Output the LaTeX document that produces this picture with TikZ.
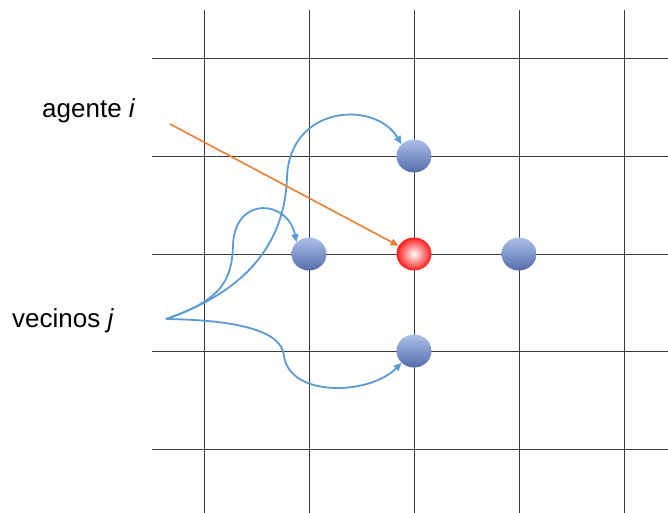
\documentclass[tikz,border=0pt]{standalone}
\usepackage{fontspec}
\setmainfont{Liberation Sans}
\usepackage{tikz}
\usepackage{xcolor}
\usetikzlibrary{arrows.meta, positioning, shapes.geometric, calc}
\definecolor{gridgray}{RGB}{60,60,60}
\definecolor{linkblue}{RGB}{91,155,213}
\definecolor{linkorange}{RGB}{237,125,49}
\definecolor{balltop}{RGB}{172,192,232}
\definecolor{ballbot}{RGB}{84,108,172}
\definecolor{agentred}{RGB}{252,28,28}

\begin{document}
\begin{tikzpicture}[
  x=1pt, y=-1pt,
  gridline/.style={draw=gridgray, line width=1pt},
  vecino/.style={ellipse, minimum width=35pt, minimum height=33pt, inner sep=0pt,
                 top color=balltop, bottom color=ballbot},
  agente/.style={ellipse, minimum width=35pt, minimum height=33pt, inner sep=0pt,
                 inner color=white, outer color=agentred},
  label/.style={anchor=base west, inner sep=0pt, font=\fontsize{26}{30}\selectfont},
  link/.style={-{Triangle[length=8pt, width=7pt]}, line width=1.8pt, linkblue},
  pointer/.style={-{Triangle[length=8pt, width=7pt]}, line width=1.6pt, linkorange}
]
\useasboundingbox (0,0) rectangle (668,513);

% grid
\foreach \gx in {204,309,414,519,624}
  \draw[gridline] (\gx,10) -- (\gx,513);
\foreach \gy in {59,156,254,351,449}
  \draw[gridline] (152,\gy) -- (668,\gy);

% agents
\node[vecino] (top) at (414,156) {};
\node[vecino] (left) at (309,254) {};
\node[vecino] (right) at (519,254) {};
\node[vecino] (bottom) at (414,351) {};
\node[agente] (center) at (414,254) {};

% labels
\node[label] (agentelbl) at (42,118) {agente \textit{i}};
\node[label] (vecinoslbl) at (12,327) {vecinos \textit{j}};

\coordinate (src) at (166,319);
\coordinate (ptr) at (170,124);

% links
\draw[link] (src) .. controls (250,290) and (285,240) .. (287,177)
  .. controls (290,105) and (375,100) .. (top.north west);
\draw[link] (src) .. controls (222,300) and (232,280) .. (233,245)
  .. controls (235,195) and (288,200) .. (left.north west);
\draw[link] (src) .. controls (235,320) and (282,330) .. (284,356)
  .. controls (290,398) and (370,395) .. (bottom.south west);
\draw[pointer] (ptr) -- (center);
\end{tikzpicture}
\end{document}
